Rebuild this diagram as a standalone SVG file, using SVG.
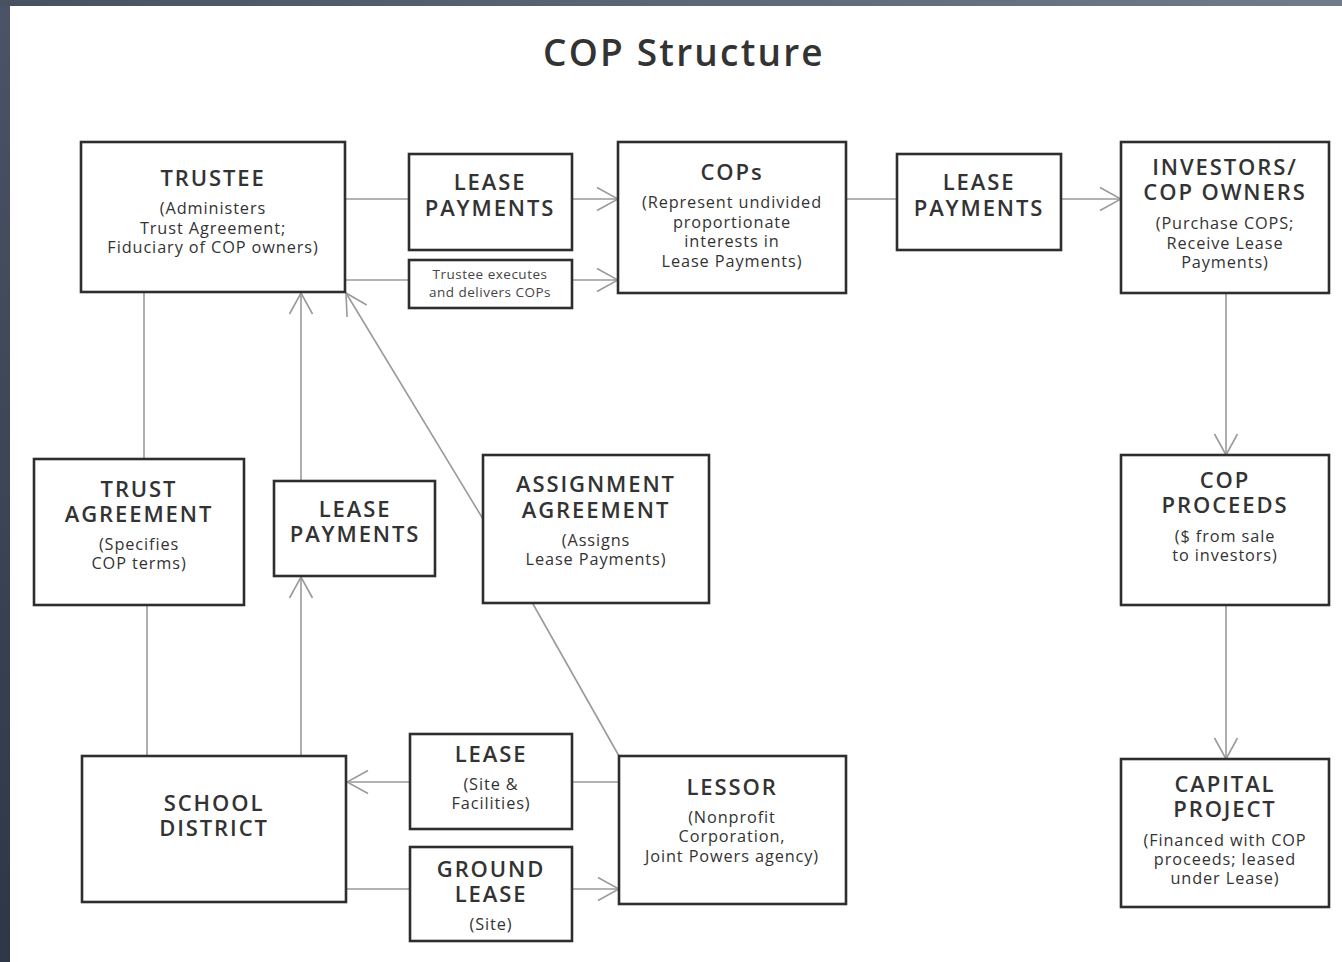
<svg xmlns="http://www.w3.org/2000/svg" width="1342" height="962" viewBox="0 0 1342 962">
<defs>
<linearGradient id="topband" x1="0" y1="0" x2="1" y2="0">
<stop offset="0" stop-color="#48515f"/>
<stop offset="1" stop-color="#727b8b"/>
</linearGradient>
<linearGradient id="leftband" x1="0" y1="0" x2="0" y2="1">
<stop offset="0" stop-color="#4b5466"/>
<stop offset="1" stop-color="#2e3747"/>
</linearGradient>
<marker id="arr" viewBox="0 0 24 26" markerWidth="24" markerHeight="26" refX="23" refY="13" orient="auto" markerUnits="userSpaceOnUse">
<path d="M2,1.5 L23,13 L2,24.5" fill="none" stroke="#9a9a9a" stroke-width="1.6"/>
</marker>
<style>
.box{fill:#fff;stroke:#2e2e2e;stroke-width:2.6}
.h{font-family:"Open Sans","Noto Sans","Liberation Sans",sans-serif;font-size:22px;fill:#333;text-anchor:middle;letter-spacing:1.9px;font-weight:600}
.s{font-family:"Open Sans","Noto Sans","Liberation Sans",sans-serif;font-size:16.3px;fill:#333;text-anchor:middle;letter-spacing:0.9px}
.t{font-family:"Open Sans","Noto Sans","Liberation Sans",sans-serif;font-size:13.5px;fill:#444;text-anchor:middle;letter-spacing:0.5px}
.c{fill:none;stroke:#9a9a9a;stroke-width:1.6}
</style>
</defs>
<rect x="0" y="0" width="1342" height="962" fill="url(#leftband)"/>
<rect x="0" y="0" width="1342" height="6" fill="url(#topband)"/>
<rect x="10" y="6" width="1332" height="956" fill="#ffffff"/>
<text x="684" y="66" font-family="'Open Sans','Noto Sans','Liberation Sans',sans-serif" font-size="37" font-weight="600" fill="#333" text-anchor="middle" letter-spacing="2.2">COP Structure</text>

<g id="connectors">
<line class="c" x1="346" y1="199" x2="409" y2="199"/>
<line class="c" x1="572" y1="199" x2="618" y2="199" marker-end="url(#arr)"/>
<line class="c" x1="346" y1="280" x2="409" y2="280"/>
<line class="c" x1="572" y1="280" x2="618" y2="280" marker-end="url(#arr)"/>
<line class="c" x1="846" y1="199" x2="897" y2="199"/>
<line class="c" x1="1061" y1="199" x2="1121" y2="199" marker-end="url(#arr)"/>
<line class="c" x1="1226" y1="293" x2="1226" y2="455" marker-end="url(#arr)"/>
<line class="c" x1="1226" y1="605" x2="1226" y2="759" marker-end="url(#arr)"/>
<line class="c" x1="144" y1="292" x2="144" y2="459"/>
<line class="c" x1="147" y1="605" x2="147" y2="756"/>
<line class="c" x1="301" y1="756" x2="301" y2="577" marker-end="url(#arr)"/>
<line class="c" x1="301" y1="481" x2="301" y2="293" marker-end="url(#arr)"/>
<line class="c" x1="483" y1="519" x2="346" y2="293" marker-end="url(#arr)"/>
<line class="c" x1="619" y1="756" x2="533" y2="604"/>
<line class="c" x1="619" y1="782" x2="572" y2="782"/>
<line class="c" x1="410" y1="782" x2="347" y2="782" marker-end="url(#arr)"/>
<line class="c" x1="346" y1="889" x2="410" y2="889"/>
<line class="c" x1="572" y1="889" x2="619" y2="889" marker-end="url(#arr)"/>
</g>

<g id="trustee">
<rect class="box" x="81" y="142" width="264" height="150"/>
<text class="h" x="213" y="186">TRUSTEE</text>
<text class="s" x="213" y="214">(Administers</text>
<text class="s" x="213" y="234">Trust Agreement;</text>
<text class="s" x="213" y="253">Fiduciary of COP owners)</text>
</g>
<g id="lease-payments-1">
<rect class="box" x="409" y="154" width="163" height="96"/>
<text class="h" x="490" y="190">LEASE</text>
<text class="h" x="490" y="216">PAYMENTS</text>
</g>
<g id="trustee-executes">
<rect class="box" x="409" y="260" width="163" height="48"/>
<text class="t" x="490" y="279">Trustee executes</text>
<text class="t" x="490" y="297">and delivers COPs</text>
</g>
<g id="cops">
<rect class="box" x="618" y="142" width="228" height="151"/>
<text class="h" x="732" y="180">COPs</text>
<text class="s" x="732" y="208">(Represent undivided</text>
<text class="s" x="732" y="228">proportionate</text>
<text class="s" x="732" y="247">interests in</text>
<text class="s" x="732" y="267">Lease Payments)</text>
</g>
<g id="lease-payments-2">
<rect class="box" x="897" y="154" width="164" height="96"/>
<text class="h" x="979" y="190">LEASE</text>
<text class="h" x="979" y="216">PAYMENTS</text>
</g>
<g id="investors">
<rect class="box" x="1121" y="142" width="208" height="151"/>
<text class="h" x="1225" y="175">INVESTORS/</text>
<text class="h" x="1225" y="200">COP OWNERS</text>
<text class="s" x="1225" y="229">(Purchase COPS;</text>
<text class="s" x="1225" y="249">Receive Lease</text>
<text class="s" x="1225" y="268">Payments)</text>
</g>
<g id="trust-agreement">
<rect class="box" x="34" y="459" width="210" height="146"/>
<text class="h" x="139" y="497">TRUST</text>
<text class="h" x="139" y="522">AGREEMENT</text>
<text class="s" x="139" y="550">(Specifies</text>
<text class="s" x="139" y="569">COP terms)</text>
</g>
<g id="lease-payments-3">
<rect class="box" x="274" y="481" width="161" height="95"/>
<text class="h" x="355" y="517">LEASE</text>
<text class="h" x="355" y="542">PAYMENTS</text>
</g>
<g id="assignment-agreement">
<rect class="box" x="483" y="455" width="226" height="148"/>
<text class="h" x="596" y="492">ASSIGNMENT</text>
<text class="h" x="596" y="518">AGREEMENT</text>
<text class="s" x="596" y="546">(Assigns</text>
<text class="s" x="596" y="565">Lease Payments)</text>
</g>
<g id="cop-proceeds">
<rect class="box" x="1121" y="455" width="208" height="150"/>
<text class="h" x="1225" y="488">COP</text>
<text class="h" x="1225" y="513">PROCEEDS</text>
<text class="s" x="1225" y="542">($ from sale</text>
<text class="s" x="1225" y="561">to investors)</text>
</g>
<g id="school-district">
<rect class="box" x="82" y="756" width="264" height="146"/>
<text class="h" x="214" y="811">SCHOOL</text>
<text class="h" x="214" y="836">DISTRICT</text>
</g>
<g id="lease">
<rect class="box" x="410" y="734" width="162" height="95"/>
<text class="h" x="491" y="762">LEASE</text>
<text class="s" x="491" y="790">(Site &amp;</text>
<text class="s" x="491" y="809">Facilities)</text>
</g>
<g id="ground-lease">
<rect class="box" x="410" y="847" width="162" height="94"/>
<text class="h" x="491" y="877">GROUND</text>
<text class="h" x="491" y="902">LEASE</text>
<text class="s" x="491" y="930">(Site)</text>
</g>
<g id="lessor">
<rect class="box" x="619" y="756" width="227" height="148"/>
<text class="h" x="732" y="795">LESSOR</text>
<text class="s" x="732" y="823">(Nonprofit</text>
<text class="s" x="732" y="842">Corporation,</text>
<text class="s" x="732" y="862">Joint Powers agency)</text>
</g>
<g id="capital-project">
<rect class="box" x="1121" y="759" width="208" height="148"/>
<text class="h" x="1225" y="792">CAPITAL</text>
<text class="h" x="1225" y="817">PROJECT</text>
<text class="s" x="1225" y="846">(Financed with COP</text>
<text class="s" x="1225" y="865">proceeds; leased</text>
<text class="s" x="1225" y="884">under Lease)</text>
</g>
</svg>
